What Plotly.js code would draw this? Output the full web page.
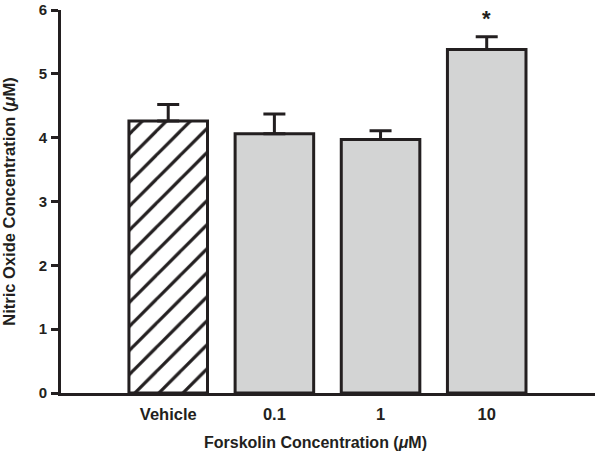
<!DOCTYPE html>
<html>
<head>
<meta charset="utf-8">
<script src="https://cdn.plot.ly/plotly-3.0.1.min.js"></script>
<style>
  html, body { margin: 0; padding: 0; background: #ffffff; }
  #chart { width: 600px; height: 461px; }
</style>
</head>
<body>
<div id="chart"></div>
<script>
// Data
const categories = ['Vehicle', '0.1', '1', '10'];
const values = [4.26, 4.06, 3.97, 5.38];
const errorsUp = [0.26, 0.31, 0.14, 0.20];
const significance = ['', '', '', '*'];

const ink = '#231f20';
const grey = '#d3d4d4';
const fontFamily = '"Liberation Sans", Arial, sans-serif';

const xIdx = categories.map((c, i) => i);

function barTrace(indices, hatched) {
  return {
    type: 'bar',
    x: indices.map(i => xIdx[i]),
    y: indices.map(i => values[i]),
    width: 0.74,
    marker: {
      color: hatched ? '#ffffff' : grey,
      line: { color: ink, width: 3 },
      pattern: hatched ? {
        shape: '/',
        bgcolor: '#ffffff',
        fgcolor: ink,
        fgopacity: 1,
        fillmode: 'overlay',
        size: 17,
        solidity: 0.19
      } : { shape: '' }
    },
    error_y: {
      type: 'data',
      array: indices.map(i => errorsUp[i]),
      arrayminus: indices.map(() => 0),
      symmetric: false,
      color: ink,
      thickness: 3,
      width: 11
    },
    hoverinfo: 'skip'
  };
}

const traces = [barTrace([0], true), barTrace([1, 2, 3], false)];

const annotations = [];
significance.forEach((s, i) => {
  if (s) {
    annotations.push({
      x: i, y: values[i] + errorsUp[i],
      xref: 'x', yref: 'y',
      text: '<b>' + s + '</b>',
      showarrow: false,
      yanchor: 'bottom',
      yshift: 4,
      font: { family: fontFamily, size: 22, color: ink }
    });
  }
});
annotations.push({
  x: 0.4775, y: -0.13, xref: 'paper', yref: 'paper',
  text: '<b>Forskolin Concentration (<i>μ</i>M)</b>',
  showarrow: false, xanchor: 'center', yanchor: 'middle',
  font: { family: fontFamily, size: 16, color: ink }
});

const layout = {
  width: 600,
  height: 461,
  margin: { l: 61, r: 5, t: 10, b: 68 },
  paper_bgcolor: '#ffffff',
  plot_bgcolor: '#ffffff',
  showlegend: false,
  barmode: 'overlay',
  font: { family: fontFamily, color: ink },
  xaxis: {
    range: [-1.01, 4.02],
    tickvals: xIdx,
    ticktext: categories.map(c => '<b>' + c + '</b>'),
    tickfont: { family: fontFamily, size: 16.5, color: ink },
    ticks: '',
    ticklabelstandoff: 4,
    showline: true,
    linecolor: ink,
    linewidth: 3,
    showgrid: false,
    zeroline: false,
    fixedrange: true
  },
  yaxis: {
    range: [0, 6],
    tickvals: [0, 1, 2, 3, 4, 5, 6],
    ticktext: ['0', '1', '2', '3', '4', '5', '6'].map(t => '<b>' + t + '</b>'),
    tickfont: { family: fontFamily, size: 15, color: ink },
    ticks: 'outside',
    ticklen: 7,
    tickwidth: 3,
    tickcolor: ink,
    ticklabelstandoff: 1,
    showline: true,
    linecolor: ink,
    linewidth: 3,
    showgrid: false,
    zeroline: false,
    fixedrange: true,
    title: {
      text: '<b>Nitric Oxide Concentration (<i>μ</i>M)</b>',
      font: { family: fontFamily, size: 16.5, color: ink },
      standoff: 19
    }
  },
  annotations: annotations
};

Plotly.newPlot('chart', traces, layout, { displayModeBar: false, staticPlot: true });
</script>
</body>
</html>
